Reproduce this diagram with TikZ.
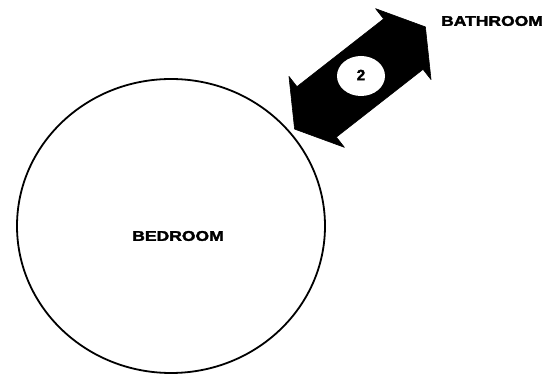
\documentclass[tikz,border=0pt]{standalone}
\usepackage{fontspec}
\setmainfont{Liberation Sans}
\newfontfamily\heavylabel[FakeBold=2.2]{Liberation Sans Bold}
\begin{document}
\begin{tikzpicture}[x=1pt,y=-1pt,
  roomlabel/.style={inner sep=0pt, font=\fontsize{14}{14}\heavylabel},
  roomshape/.style={draw=black, line width=1.8pt},
  arrowbody/.style={fill=black, draw=black, line width=0.6pt, line join=round}]
\useasboundingbox (0,0) rectangle (550,379);
% bedroom
\draw[roomshape] (171,226) ellipse [x radius=154, y radius=147];
\node[roomlabel] (bedroom) at (178,236) {\scalebox{1.25}[1]{BEDROOM}};
\node[roomlabel] (bathroom) at (492,21) {\scalebox{1.25}[1]{BATHROOM}};
% double arrow
\begin{scope}[shift={(360,78)}, rotate=38]
\fill[arrowbody] (-83,0) -- (-55,45) -- (-55,32) -- (55,32) -- (55,45) -- (83,0)
  -- (55,-45) -- (55,-32) -- (-55,-32) -- (-55,-45) -- cycle;
\end{scope}
\fill[white] (361,76) ellipse [x radius=24, y radius=20];
\node[inner sep=0pt, font=\fontsize{15}{15}\heavylabel] (num) at (361,75) {2};
\end{tikzpicture}
\end{document}
